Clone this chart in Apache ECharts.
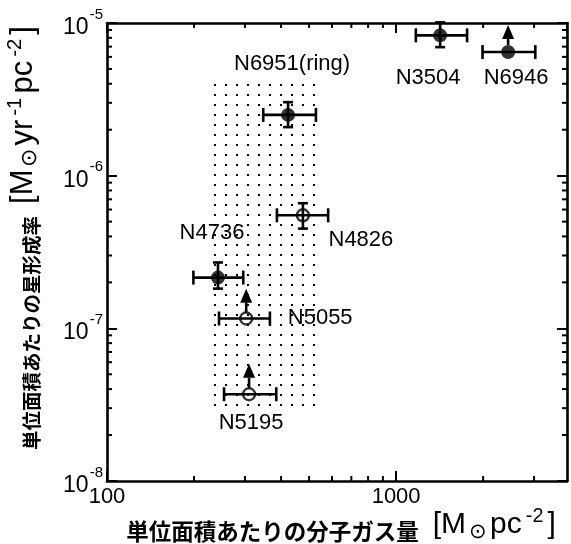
<!DOCTYPE html>
<html><head><meta charset="utf-8">
<script src="https://cdn.jsdelivr.net/npm/echarts@6/dist/echarts.min.js"></script>
<style>html,body{margin:0;padding:0;background:#fff}#c{width:571px;height:544px}</style>
</head><body><div id="c"></div>
<script>
// ---- data ----
const names = ['N3504', 'N6946', 'N6951(ring)', 'N4826', 'N4736', 'N5055', 'N5195'];
const gas   = [1420, 2440, 423, 476, 242, 303, 310];
const gasLo = [1170, 1990, 347, 387, 199, 244, 254];
const gasHi = [1760, 3030, 528, 582, 296, 366, 385];
const sfr   = [8.3e-6, 6.45e-6, 2.5e-6, 5.5e-7, 2.15e-7, 1.16e-7, 3.7e-8];
const sfrLo = [6.95e-6, null, 2.08e-6, 4.5e-7, 1.82e-7, null, null];
const sfrHi = [1.01e-5, null, 3.03e-6, 6.6e-7, 2.7e-7, null, null];
const lowerLimitTip = [null, 9.7e-6, null, null, null, 1.82e-7, 5.86e-8];
const filled = [true, true, true, false, true, false, false];
const bandGas = [233, 555];
const bandSfr = [3.0e-8, 4.1e-6];
const xRange = [100, 3900];
const yRange = [1e-8, 1e-5];
const xMinorTicks = [200, 300, 400, 500, 600, 700, 800, 900, 2000, 3000];
const yMinorTicks = [2e-8, 3e-8, 4e-8, 5e-8, 6e-8, 7e-8, 8e-8, 9e-8,
                     2e-7, 3e-7, 4e-7, 5e-7, 6e-7, 7e-7, 8e-7, 9e-7,
                     2e-6, 3e-6, 4e-6, 5e-6, 6e-6, 7e-6, 8e-6, 9e-6];

// ---- styles ----
const labelOffsets = [[-12, 43], [8, 26], [4, -51], [58, 25], [-6, -45], [74, -1], [2, 29]];
const FONT = '"Liberation Sans", Arial, Helvetica, sans-serif';
const CJK = '"Noto Sans CJK JP", "Noto Sans", sans-serif';
const LW = 2.6;

const pc = document.createElement('canvas');
pc.width = 11; pc.height = 10;
const pctx = pc.getContext('2d');
pctx.fillStyle = '#000';
pctx.fillRect(5, 4, 2, 2);

const chart = echarts.init(document.getElementById('c'), null, {renderer: 'canvas'});

const errData = names.map((n, i) => [gas[i], sfr[i], gasLo[i], gasHi[i],
  sfrLo[i] == null ? 0 : sfrLo[i], sfrHi[i] == null ? 0 : sfrHi[i], sfrLo[i] == null ? 0 : 1]);
const arrowData = [];
names.forEach((n, i) => { if (lowerLimitTip[i] != null) arrowData.push([gas[i], sfr[i], lowerLimitTip[i], filled[i] ? 7 : 6]); });
const labelData = names.map((n, i) => [gas[i], sfr[i], i]);

const lineStyle = {stroke: '#000', lineWidth: LW};

const titleRich = (cjkSize, latSize, startPad, gap) => ({
  a0: {fontFamily: CJK, fontSize: cjkSize, fontWeight: 'bold', color: '#000', lineHeight: 36, verticalAlign: 'bottom', padding: [0, 0, 0, startPad]},
  a: {fontFamily: CJK, fontSize: cjkSize, fontWeight: 'bold', color: '#000', lineHeight: 36, verticalAlign: 'bottom', padding: [0, gap, 0, 0]},
  m: {fontFamily: FONT, fontSize: latSize, color: '#000', lineHeight: 36, verticalAlign: 'middle', padding: [0, 2, 0, 2]},
  sub: {fontFamily: FONT, fontSize: latSize * 0.7, color: '#000', lineHeight: 36, verticalAlign: 'bottom', padding: [0, 1, 0, 1]},
  sup: {fontFamily: FONT, fontSize: latSize * 0.66, color: '#000', lineHeight: 36, verticalAlign: 'top', padding: [0, 2, 0, 2]}
});

const tickLabelRich = {
  b: {fontFamily: FONT, fontSize: 23, color: '#000', lineHeight: 32, verticalAlign: 'bottom'},
  s: {fontFamily: FONT, fontSize: 15, color: '#000', lineHeight: 32, verticalAlign: 'top', padding: [0, 0, 0, 1]}
};

const axisCommon = {
  type: 'log', logBase: 10,
  axisLine: {show: true, lineStyle: {color: '#000', width: LW}},
  axisTick: {show: true, inside: true, length: 10, lineStyle: {color: '#000', width: 2}},
  splitLine: {show: false},
  minorTick: {show: false}
};

const isDecade = v => Math.abs(Math.log10(v) - Math.round(Math.log10(v))) < 1e-6;

chart.setOption({
  animation: false,
  backgroundColor: '#fff',
  grid: {left: 107, right: 4, top: 23, bottom: 63, containLabel: false, outerBoundsMode: 'none'},
  xAxis: [
    Object.assign({}, axisCommon, {
      position: 'bottom', min: xRange[0], max: xRange[1],
      axisLabel: {fontFamily: FONT, fontSize: 22, color: '#000', margin: 5, showMaxLabel: false,
        formatter: v => isDecade(v) ? String(Math.round(v)) : ''},
      name: '{a0|単位面積あたりの分子ガス}{a|量}{m|[M}{sub|⊙}{m|pc}{sup|-2}{m|]}',
      nameLocation: 'middle', nameGap: 26, nameMoveOverlap: false,
      nameTextStyle: {rich: titleRich(22.5, 30, 10, 12)}
    }),
    Object.assign({}, axisCommon, {
      position: 'top', min: xRange[0], max: xRange[1], axisLabel: {show: false}
    })
  ],
  yAxis: [
    Object.assign({}, axisCommon, {
      position: 'left', min: yRange[0], max: yRange[1],
      axisLabel: {margin: 4, rich: tickLabelRich,
        formatter: v => '{b|10}{s|' + Math.round(Math.log10(v)) + '}'},
      name: '{a0|単位面積あたりの星形成}{a|率}{m|[M}{sub|⊙}{m|yr}{sup|-1}{m|pc}{sup|-2}{m|]}',
      nameLocation: 'middle', nameGap: 66, nameRotate: 90, nameMoveOverlap: false,
      nameTextStyle: {rich: titleRich(19.5, 31, 30, 10)}
    }),
    Object.assign({}, axisCommon, {
      position: 'right', min: yRange[0], max: yRange[1], axisLabel: {show: false}
    })
  ],
  series: [
    {
      type: 'custom', name: 'xminor', z: 1, silent: true,
      data: xMinorTicks.map(v => [v, 1e-7]),
      encode: {x: 0, y: 1},
      renderItem: (params, api) => {
        const p = api.coord([api.value(0), api.value(1)]);
        const cs = params.coordSys;
        const b = cs.y + cs.height, t = cs.y;
        return {type: 'group', children: [
          {type: 'line', shape: {x1: p[0], y1: b, x2: p[0], y2: b - 5}, style: {stroke: '#000', lineWidth: 2}},
          {type: 'line', shape: {x1: p[0], y1: t, x2: p[0], y2: t + 5}, style: {stroke: '#000', lineWidth: 2}}
        ]};
      },
      markArea: {
        silent: true,
        itemStyle: {color: {image: pc, repeat: 'repeat'}},
        data: [[{coord: [bandGas[0], bandSfr[1]]}, {coord: [bandGas[1], bandSfr[0]]}]]
      }
    },
    {
      type: 'custom', name: 'yminor', z: 1, silent: true,
      data: yMinorTicks.map(v => [1000, v]),
      encode: {x: 0, y: 1},
      renderItem: (params, api) => {
        const p = api.coord([api.value(0), api.value(1)]);
        const cs = params.coordSys;
        const l = cs.x, r = cs.x + cs.width;
        return {type: 'group', children: [
          {type: 'line', shape: {x1: l, y1: p[1], x2: l + 5, y2: p[1]}, style: {stroke: '#000', lineWidth: 2}},
          {type: 'line', shape: {x1: r, y1: p[1], x2: r - 5, y2: p[1]}, style: {stroke: '#000', lineWidth: 2}}
        ]};
      }
    },
    {
      type: 'custom', name: 'errors', z: 3, silent: true,
      data: errData,
      encode: {x: 0, y: 1},
      renderItem: (params, api) => {
        const c = api.coord([api.value(0), api.value(1)]);
        const l = api.coord([api.value(2), api.value(1)]);
        const h = api.coord([api.value(3), api.value(1)]);
        const ch = [
          {type: 'line', shape: {x1: l[0], y1: c[1], x2: h[0], y2: c[1]}, style: lineStyle},
          {type: 'line', shape: {x1: l[0], y1: c[1] - 7, x2: l[0], y2: c[1] + 7}, style: lineStyle},
          {type: 'line', shape: {x1: h[0], y1: c[1] - 7, x2: h[0], y2: c[1] + 7}, style: lineStyle}
        ];
        if (api.value(6) === 1) {
          const lo = api.coord([api.value(0), api.value(4)]);
          const hi = api.coord([api.value(0), api.value(5)]);
          ch.push({type: 'line', shape: {x1: c[0], y1: lo[1], x2: c[0], y2: hi[1]}, style: lineStyle});
          ch.push({type: 'line', shape: {x1: c[0] - 5, y1: lo[1], x2: c[0] + 5, y2: lo[1]}, style: lineStyle});
          ch.push({type: 'line', shape: {x1: c[0] - 5, y1: hi[1], x2: c[0] + 5, y2: hi[1]}, style: lineStyle});
        }
        return {type: 'group', children: ch};
      }
    },
    {
      type: 'custom', name: 'limits', z: 3, silent: true,
      data: arrowData,
      encode: {x: 0, y: 1},
      renderItem: (params, api) => {
        const c = api.coord([api.value(0), api.value(1)]);
        const tip = api.coord([api.value(0), api.value(2)]);
        const r = api.value(3);
        const base = tip[1] + 14;
        return {type: 'group', children: [
          {type: 'line', shape: {x1: c[0], y1: c[1] - r, x2: c[0], y2: base}, style: lineStyle},
          {type: 'polygon', shape: {points: [[c[0], tip[1]], [c[0] - 6, base], [c[0] + 6, base]]}, style: {fill: '#000'}}
        ]};
      }
    },
    {
      type: 'scatter', name: 'filled', z: 4, silent: true,
      symbol: 'circle', symbolSize: 14,
      itemStyle: {color: '#000'},
      data: names.map((n, i) => filled[i] ? [gas[i], sfr[i]] : null).filter(d => d)
    },
    {
      type: 'scatter', name: 'open', z: 4, silent: true,
      symbol: 'circle', symbolSize: 12,
      itemStyle: {color: 'rgba(0,0,0,0)', borderColor: '#000', borderWidth: 2.4},
      data: names.map((n, i) => filled[i] ? null : [gas[i], sfr[i]]).filter(d => d)
    },
    {
      type: 'custom', name: 'labels', z: 5, silent: true,
      data: labelData,
      encode: {x: 0, y: 1},
      renderItem: (params, api) => {
        const c = api.coord([api.value(0), api.value(1)]);
        const i = api.value(2);
        const o = labelOffsets[i];
        return {type: 'text', x: c[0] + o[0], y: c[1] + o[1],
          style: {text: names[i], fill: '#000', font: '22px ' + FONT, align: 'center', verticalAlign: 'middle'}};
      }
    }
  ]
});
</script></body></html>
